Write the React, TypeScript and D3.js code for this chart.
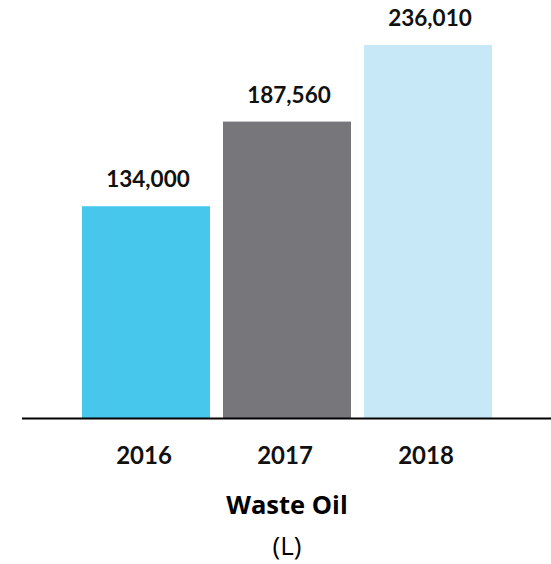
import React from "react";
import * as d3 from "d3";

const categories = ["2016", "2017", "2018"];
const values = [134000, 187560, 236010];
const colors = ["#48C7EC", "#77777B", "#C6E8F7"];
const title = "Waste Oil";
const unit = "(L)";

const W = 551;
const H = 564;

export default function App() {
  const x = d3.scaleBand<string>().domain(categories).range([82, 492]).paddingInner(0.0922).paddingOuter(0);
  const y = d3.scaleLinear().domain([0, 236010]).range([418, 45]);
  const fmt = d3.format(",");
  const valueFont = "Lato, 'Open Sans', sans-serif";
  return (
    <svg width={W} height={H} style={{ position: "absolute", left: 0, top: 0, background: "#fff" }}>
      {categories.map((c, i) => (
        <g key={c}>
          <rect x={x(c)} y={y(values[i])} width={x.bandwidth()} height={y(0) - y(values[i])} fill={colors[i]} />
          <text
            x={(x(c) as number) + x.bandwidth() / 2 + 2}
            y={y(values[i]) - 19}
            textAnchor="middle"
            fontFamily={valueFont}
            fontWeight={700}
            fontSize={22.5}
            fill="#111"
          >
            {fmt(values[i])}
          </text>
          <text
            x={(x(c) as number) + x.bandwidth() / 2 - 2}
            y={464}
            textAnchor="middle"
            fontFamily={valueFont}
            fontWeight={700}
            fontSize={24}
            fill="#111"
          >
            {c}
          </text>
        </g>
      ))}
      <line x1={22} x2={W} y1={418.5} y2={418.5} stroke="#000" strokeWidth={2} />
      <text x={287} y={514} textAnchor="middle" fontFamily="'Open Sans', sans-serif" fontWeight={700} fontSize={25.5} fill="#000">
        {title}
      </text>
      <text x={287} y={555} textAnchor="middle" fontFamily="'Open Sans', sans-serif" fontWeight={400} fontSize={26} fill="#000">
        {unit}
      </text>
    </svg>
  );
}
